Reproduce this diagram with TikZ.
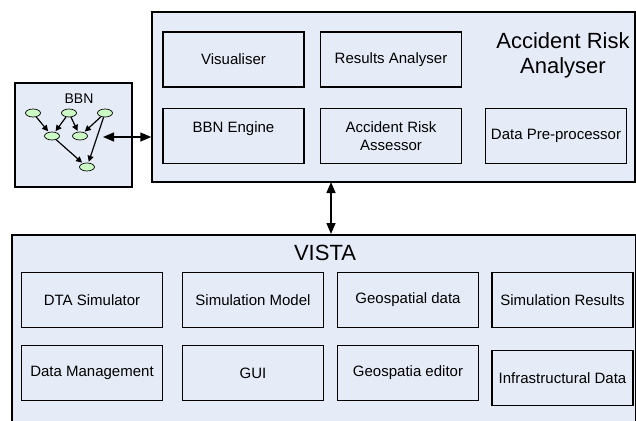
\documentclass[tikz,border=0pt]{standalone}
\usepackage{fontspec}
\setmainfont{Liberation Sans}
\usetikzlibrary{arrows.meta,shapes.geometric}
\definecolor{panelfill}{RGB}{230,236,247}
\definecolor{nodegreen}{RGB}{204,250,196}
\tikzset{
  panel/.style={draw, line width=1.5pt, fill=panelfill, inner sep=0pt},
  part/.style={draw, line width=1.4pt, fill=panelfill, minimum width=141pt, minimum height=55pt, inner sep=0pt, align=center, font=\fontsize{15}{18}\selectfont},
  bnode/.style={draw, ellipse, fill=nodegreen, line width=0.7pt, minimum width=15pt, minimum height=8pt, inner sep=0pt},
  bedge/.style={draw, line width=1.2pt, -{Triangle[length=6pt,width=6pt]}, shorten >=1pt},
  link/.style={draw, line width=1.5pt, {Triangle[length=11pt,width=9pt]}-{Triangle[length=11pt,width=9pt]}},
  title/.style={font=\fontsize{22}{25}\selectfont, align=center}
}
\begin{document}
\begin{tikzpicture}[x=1pt,y=-1pt]
\useasboundingbox (0,0) rectangle (636,420);
\clip (0,0) rectangle (636,420);

% Accident Risk Analyser
\node[panel, minimum width=483pt, minimum height=170pt] (ara) at (393.5,97) {};
\node[title] (aratitle) at (563,55) {Accident Risk\\Analyser};
\node[part] (vis) at (233.5,59.5) {Visualiser};
\node[part] (resa) at (391,59.5) {Results Analyser};
\node[part] (engine) at (233.5,136) {BBN Engine\\~};
\node[part] (assess) at (391,136) {Accident Risk\\Assessor};
\node[part] (prep) at (556,136) {Data Pre-processor};

% BBN
\node[panel, minimum width=117pt, minimum height=104pt] (bbn) at (73.5,135) {};
\node[font=\fontsize{14}{16}\selectfont] (bbntitle) at (79,99) {BBN};
\node[bnode] (1) at (33,113) {};
\node[bnode] (2) at (69,113) {};
\node[bnode] (3) at (105,113) {};
\node[bnode] (4) at (52,136) {};
\node[bnode] (5) at (80,136) {};
\node[bnode] (6) at (87,167) {};

\path[bedge] (1) -- (4);
\path[bedge] (2) -- (4);
\path[bedge] (2) -- (5);
\path[bedge] (3) -- (5);
\path[bedge] (4) -- (6);
\path[bedge] (3) -- (6);

\coordinate (c) at (103,137);
\path[link] (c) -- (c -| ara.west);

% VISTA
\node[panel, minimum width=624pt, minimum height=220pt, anchor=north west] (vista) at (11,234) {};
\node[title] (vtitle) at (325,253) {VISTA};
\coordinate (v) at (331,182);
\path[link] (v) -- (v |- vista.north);

\node[part] (dta) at (92,300) {DTA Simulator};
\node[part] (simm) at (253,300) {Simulation Model};
\node[part] (geo) at (408,300) {Geospatial data};
\node[part] (simr) at (562.5,300) {Simulation Results};
\node[part] (dman) at (92,373) {Data Management};
\node[part] (gui) at (253,373) {GUI};
\node[part] (geoed) at (408,373) {Geospatia editor};
\node[part] (infra) at (562.5,378) {Infrastructural Data};
\end{tikzpicture}
\end{document}
